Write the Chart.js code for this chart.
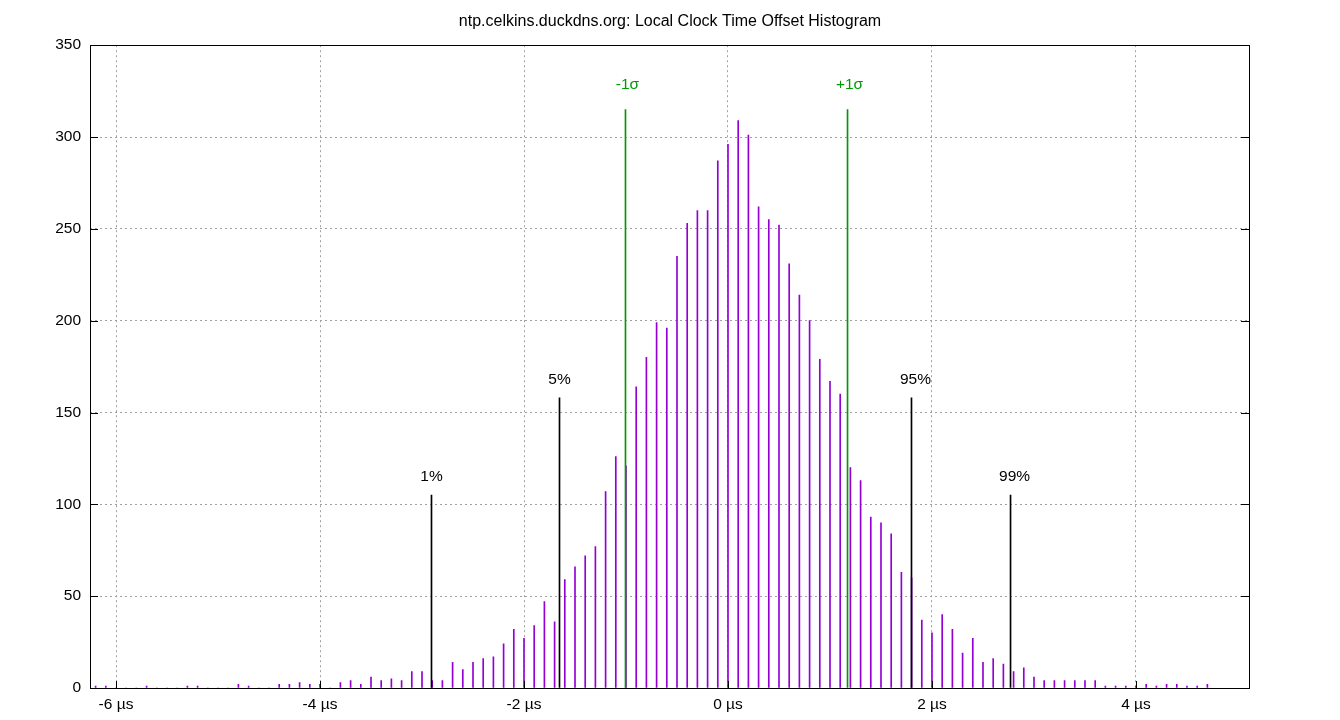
<!DOCTYPE html>
<html>
<head>
<meta charset="utf-8">
<script src="https://cdn.jsdelivr.net/npm/chart.js@4.4.0/dist/chart.umd.min.js"></script>
<style>
  html, body { margin: 0; padding: 0; background: #fff; }
</style>
</head>
<body>
<canvas id="histograma" width="1340" height="720"></canvas>
<script>
// desplazamiento del reloj (µs) de cada barra del histograma
const offsets = [
  -6.2, -6.1, -6.0, -5.9, -5.8, -5.7, -5.6, -5.5, -5.4, -5.3, -5.2, -5.1,
  -5.0, -4.9, -4.8, -4.7, -4.6, -4.5, -4.4, -4.3, -4.2, -4.1,
  -4.0, -3.9, -3.8, -3.7, -3.6, -3.5, -3.4, -3.3, -3.2, -3.1,
  -3.0, -2.9, -2.8, -2.7, -2.6, -2.5, -2.4, -2.3, -2.2, -2.1,
  -2.0, -1.9, -1.8, -1.7, -1.6, -1.5, -1.4, -1.3, -1.2, -1.1,
  -1.0, -0.9, -0.8, -0.7, -0.6, -0.5, -0.4, -0.3, -0.2, -0.1,
  0.0, 0.1, 0.2, 0.3, 0.4, 0.5, 0.6, 0.7, 0.8, 0.9,
  1.0, 1.1, 1.2, 1.3, 1.4, 1.5, 1.6, 1.7, 1.8, 1.9,
  2.0, 2.1, 2.2, 2.3, 2.4, 2.5, 2.6, 2.7, 2.8, 2.9,
  3.0, 3.1, 3.2, 3.3, 3.4, 3.5, 3.6, 3.7, 3.8, 3.9,
  4.0, 4.1, 4.2, 4.3, 4.4, 4.5, 4.6, 4.7
];
// numero de muestras en cada barra
const counts = [
  1, 1, 0, 0, 0, 1, 0, 0, 0, 1, 1, 0,
  0, 0, 2, 1, 0, 0, 2, 2, 3, 2,
  2, 0, 3, 4, 2, 6, 4, 5, 4, 9,
  9, 4, 4, 14, 10, 14, 16, 17, 24, 32,
  27, 34, 47, 36, 59, 66, 72, 77, 107, 126,
  121, 164, 180, 199, 196, 235, 253, 260, 260, 287,
  296, 309, 301, 262, 255, 252, 231, 214, 200, 179,
  167, 160, 120, 113, 93, 90, 84, 63, 60, 37,
  30, 40, 32, 19, 27, 14, 16, 13, 9, 11,
  6, 4, 4, 4, 4, 4, 4, 1, 1, 1,
  1, 2, 1, 2, 2, 1, 1, 2
];

// percentiles (lineas negras)
const pctX = [-2.907, -1.652, 1.799, 2.770];
const pctY = [105, 158, 158, 105];
const pctLabels = ['1%', '5%', '95%', '99%'];

// desviacion estandar (lineas verdes)
const sigmaX = [-1.005, 1.172];
const sigmaY = [315, 315];
const sigmaLabels = ['-1σ', '+1σ'];

const xTicks = [-6, -4, -2, 0, 2, 4];
const yTicks = [0, 50, 100, 150, 200, 250, 300, 350];

const FUENTE = '"Liberation Sans", Arial, sans-serif';
const VERDE = '#009a00';

// etiquetas encima de las lineas de marcador
const etiquetas = {
  id: 'etiquetas',
  afterDatasetsDraw(chart) {
    const ctx = chart.ctx;
    const x = chart.scales.x, y = chart.scales.y;
    ctx.save();
    ctx.font = '15.5px ' + FUENTE;
    ctx.textAlign = 'center';
    ctx.textBaseline = 'middle';
    ctx.fillStyle = '#000';
    pctX.forEach((v, i) => {
      const dx = pctLabels[i].length > 2 ? 4 : 0;
      ctx.fillText(pctLabels[i], x.getPixelForValue(v) + dx, y.getPixelForValue(pctY[i]) - 18);
    });
    ctx.fillStyle = VERDE;
    sigmaX.forEach((v, i) => {
      ctx.fillText(sigmaLabels[i], x.getPixelForValue(v) + 2, y.getPixelForValue(sigmaY[i]) - 25);
    });
    ctx.restore();
  }
};

// marco y marcas hacia dentro, al estilo gnuplot
const marco = {
  id: 'marco',
  afterDatasetsDraw(chart) {
    const ctx = chart.ctx;
    const a = chart.chartArea;
    const x = chart.scales.x, y = chart.scales.y;
    ctx.save();
    ctx.strokeStyle = '#000';
    ctx.lineWidth = 1;
    ctx.beginPath();
    yTicks.forEach(v => {
      const py = Math.round(y.getPixelForValue(v)) + 0.5;
      ctx.moveTo(a.left, py); ctx.lineTo(a.left + 8, py);
      ctx.moveTo(a.right, py); ctx.lineTo(a.right - 8, py);
    });
    xTicks.forEach(v => {
      const px = Math.round(x.getPixelForValue(v)) + 0.5;
      ctx.moveTo(px, a.bottom); ctx.lineTo(px, a.bottom - 7);
    });
    ctx.stroke();
    ctx.strokeRect(Math.round(a.left) + 0.5, Math.round(a.top) + 0.5,
      Math.round(a.right - a.left), Math.round(a.bottom - a.top));
    ctx.restore();
  }
};

const chart = new Chart(document.getElementById('histograma').getContext('2d'), {
  type: 'bar',
  data: {
    datasets: [
      {
        label: 'histograma',
        data: offsets.map((v, i) => ({ x: v, y: counts[i] })),
        backgroundColor: '#9400d3',
        barThickness: 1,
        grouped: false,
        order: 3
      },
      {
        label: 'percentiles',
        data: pctX.map((v, i) => ({ x: v, y: pctY[i] })),
        backgroundColor: '#000',
        barThickness: 1,
        grouped: false,
        order: 2
      },
      {
        label: 'sigma',
        data: sigmaX.map((v, i) => ({ x: v, y: sigmaY[i] })),
        backgroundColor: VERDE,
        barThickness: 1,
        grouped: false,
        order: 1
      }
    ]
  },
  options: {
    responsive: false,
    animation: false,
    layout: { padding: 0 },
    plugins: {
      legend: { display: false },
      tooltip: { enabled: false },
      title: {
        display: true,
        text: 'ntp.celkins.duckdns.org: Local Clock Time Offset Histogram',
        color: '#000',
        font: { family: FUENTE, size: 16, weight: 'normal' },
        padding: { top: 12, bottom: 14 }
      }
    },
    scales: {
      x: {
        type: 'linear',
        offset: false,
        min: -6.255,
        max: 5.108,
        afterBuildTicks: s => { s.ticks = xTicks.map(v => ({ value: v })); },
        afterFit: s => { s.height = 32; },
        ticks: {
          color: '#000',
          font: { family: FUENTE, size: 15.5 },
          padding: 7,
          maxRotation: 0,
          callback: v => v + ' µs'
        },
        grid: { color: '#a0a0a0', lineWidth: 1, drawTicks: false, offset: false },
        border: { display: false, dash: [2, 3] }
      },
      y: {
        min: 0,
        max: 350,
        afterBuildTicks: s => { s.ticks = yTicks.map(v => ({ value: v })); },
        afterFit: s => { s.width = 90; },
        ticks: {
          color: '#000',
          font: { family: FUENTE, size: 15.5 },
          padding: 9
        },
        grid: { color: '#a0a0a0', lineWidth: 1, drawTicks: false },
        border: { display: false, dash: [2, 3] }
      },
      margenDerecho: {
        position: 'right',
        min: 0,
        max: 350,
        afterFit: s => { s.width = 91; },
        ticks: { display: false },
        grid: { display: false, drawOnChartArea: false },
        border: { display: false }
      }
    }
  },
  plugins: [etiquetas, marco]
});
</script>
</body>
</html>
